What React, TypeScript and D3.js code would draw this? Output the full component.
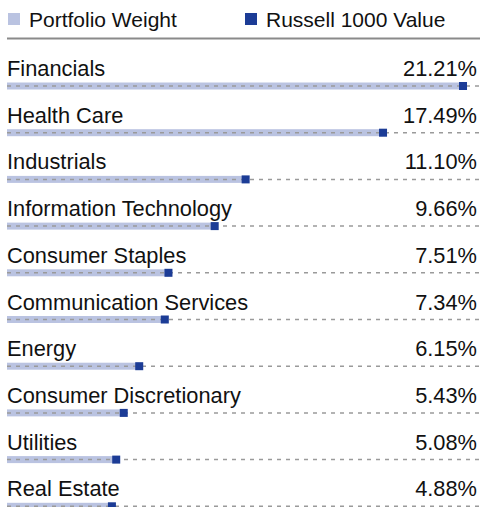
import React from "react";
import * as d3 from "d3";

const categories = [
  "Financials",
  "Health Care",
  "Industrials",
  "Information Technology",
  "Consumer Staples",
  "Communication Services",
  "Energy",
  "Consumer Discretionary",
  "Utilities",
  "Real Estate",
];
const portfolioWeight = [21.21, 17.49, 11.1, 9.66, 7.51, 7.34, 6.15, 5.43, 5.08, 4.88];
const russellValue = [21.21, 17.49, 11.1, 9.66, 7.51, 7.34, 6.15, 5.43, 5.08, 4.88];
const legendLabels = ["Portfolio Weight", "Russell 1000 Value"];

const W = 480;
const H = 507;
const LIGHT = "#bac3e1";
const DARK = "#1c3c96";
const FONT = "'Liberation Sans', Arial, Helvetica, sans-serif";
const FS = 21.8;
const LFS = 21;

export default function App() {
  const x = d3.scaleLinear().domain([0, 22]).range([7, 480]);
  const rowY = d3
    .scaleLinear()
    .domain([0, categories.length - 1])
    .range([76, 76 + 46.7 * (categories.length - 1)]);

  return (
    <svg
      width={W}
      height={H}
      style={{ position: "absolute", left: 0, top: 0, background: "#fff" }}
      fontFamily={FONT}
    >
      {/* legend */}
      <rect x={8} y={13} width={12} height={12} fill={LIGHT} />
      <text x={29} y={27} fontSize={LFS} fill="#111">
        {legendLabels[0]}
      </text>
      <rect x={245} y={13} width={12} height={12} fill={DARK} />
      <text x={266} y={27} fontSize={LFS} fill="#111">
        {legendLabels[1]}
      </text>
      <line x1={7} x2={480} y1={38.5} y2={38.5} stroke="#8a8a8a" strokeWidth={2} />

      {categories.map((c, i) => {
        const by = rowY(i);
        const cy = by + 10;
        return (
          <g key={c}>
            <text x={7} y={by} fontSize={FS} fill="#111">
              {c}
            </text>
            <text x={477} y={by} fontSize={FS} fill="#111" textAnchor="end">
              {portfolioWeight[i].toFixed(2)}%
            </text>
            <rect
              x={x(0)}
              y={cy - 3.5}
              width={x(portfolioWeight[i]) - x(0)}
              height={7}
              fill={LIGHT}
            />
            <line
              x1={7}
              x2={480}
              y1={cy}
              y2={cy}
              stroke="#9a9a9a"
              strokeWidth={1.5}
              strokeDasharray="4 5"
            />
            <rect x={x(russellValue[i]) - 4} y={cy - 4} width={8} height={8} fill={DARK} />
          </g>
        );
      })}
    </svg>
  );
}
